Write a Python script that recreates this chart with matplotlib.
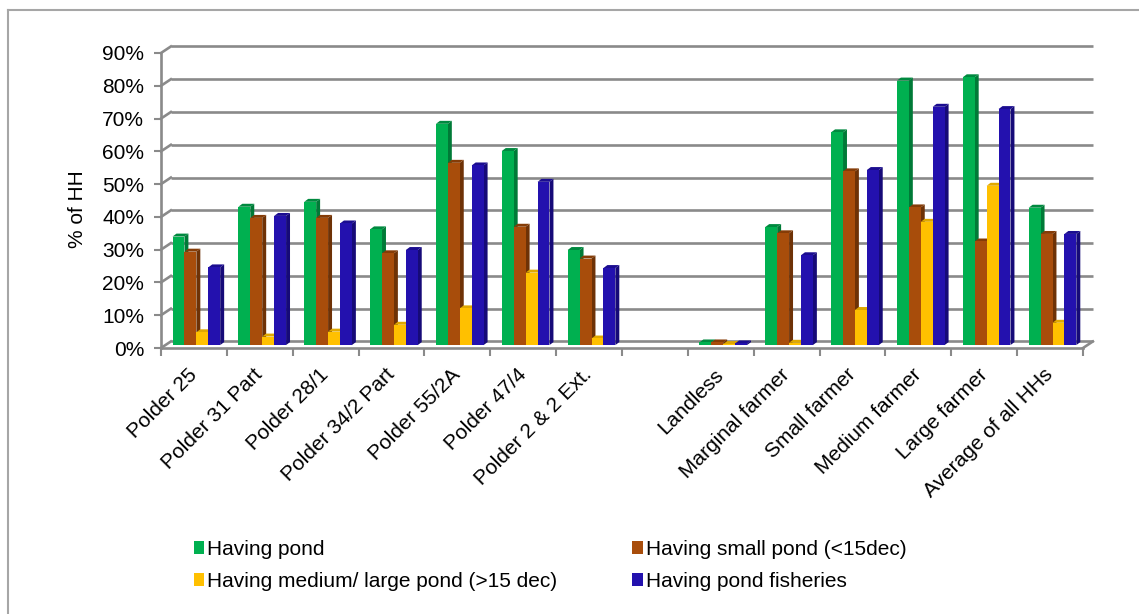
import numpy as np
import matplotlib.pyplot as plt
from matplotlib.patches import Polygon
from matplotlib.lines import Line2D

plt.rcParams["font.family"] = ["Liberation Sans", "DejaVu Sans"]

categories = ["Polder 25", "Polder 31 Part", "Polder 28/1", "Polder 34/2 Part",
              "Polder 55/2A", "Polder 47/4", "Polder 2 & 2 Ext.", "",
              "Landless", "Marginal farmer", "Small farmer", "Medium farmer",
              "Large farmer", "Average of all HHs"]

series_names = ["Having pond", "Having small pond (<15dec)",
                "Having medium/ large pond (>15 dec)", "Having pond fisheries"]

having_pond = [33.1, 42.2, 43.7, 35.3, 67.5, 59.2, 29.0, 0,
               0.8, 36.0, 64.9, 80.7, 81.7, 41.9]
small_pond = [28.5, 38.8, 38.8, 28.0, 55.6, 36.1, 26.4, 0,
              0.8, 34.1, 53.0, 42.0, 31.6, 33.9]
medium_large_pond = [3.9, 2.6, 4.1, 6.2, 11.2, 22.1, 2.0, 0,
                     0.3, 0.7, 10.7, 37.6, 48.6, 6.8]
pond_fisheries = [23.7, 39.4, 37.1, 29.0, 54.8, 49.8, 23.5, 0,
                  0.5, 27.4, 53.4, 72.7, 72.0, 33.9]

face_colors = ["#00b050", "#a84d0b", "#ffc000", "#2311ae"]
side_colors = ["#007a37", "#6e3206", "#c99600", "#160a78"]
top_colors = ["#00893f", "#853c07", "#e0a800", "#1b0d90"]

series = [having_pond, small_pond, medium_large_pond, pond_fisheries]
FS = 15

fig = plt.figure(figsize=(11.39, 6.14), dpi=100)
ax = fig.add_axes([161 / 1139, 266 / 614, 922 / 1139, 295 / 614])
n = len(categories)
ax.set_xlim(0, n)
ax.set_ylim(0, 90)

# depth of the fake 3-D box (in data units) and of each bar
dxw, dyw = 0.15, 2.0
dxb, dyb = 0.06, 0.9
base = 0.9
width = 0.181
left = 0.175

grid_col = "#8a8a8a"
# back wall gridlines with the short diagonals on the side wall
for v in range(0, 100, 10):
    ax.plot([dxw, n + dxw], [v + dyw, v + dyw], color=grid_col, lw=1.9,
            clip_on=False, zorder=1, solid_capstyle="butt")
    ax.plot([0, dxw], [v, v + dyw], color=grid_col, lw=1.9, clip_on=False, zorder=1)
# floor front edge, right corner and the value axis
ax.plot([0, n], [0, 0], color=grid_col, lw=1.9, clip_on=False, zorder=1)
ax.plot([n, n + dxw], [0, dyw], color=grid_col, lw=1.9, clip_on=False, zorder=1)
ax.plot([0, 0], [0, 90], color=grid_col, lw=1.9, clip_on=False, zorder=1)

x = np.arange(n)
handles = []
for k, vals in enumerate(series):
    xs = x + left + k * width
    # front faces; each series sits over the side face of the one before it
    bars = ax.bar(xs, vals, width=width, bottom=base, align="edge",
                  color=face_colors[k], linewidth=0, zorder=4 + 2 * k,
                  label=series_names[k])
    handles.append(bars)
    for xi, v in zip(xs, vals):
        if v <= 0:
            continue
        top = base + v
        x1 = xi + width
        side = Polygon([(x1, base), (x1, top), (x1 + dxb, top + dyb),
                        (x1 + dxb, base + dyb)], closed=True,
                       facecolor=side_colors[k], lw=0, zorder=3 + 2 * k)
        cap = Polygon([(xi, top), (x1, top), (x1 + dxb, top + dyb),
                       (xi + dxb, top + dyb)], closed=True,
                      facecolor=top_colors[k], lw=0, zorder=3 + 2 * k)
        ax.add_patch(side)
        ax.add_patch(cap)

for s in ax.spines.values():
    s.set_visible(False)

ax.set_yticks(np.arange(0, 100, 10))
ax.set_yticklabels([f"{v}%" for v in range(0, 100, 10)])
ax.tick_params(axis="y", length=5, width=1.5, color=grid_col, pad=7,
               labelsize=FS)

ax.set_xticks(np.arange(n + 1))
ax.set_xticklabels([])
ax.tick_params(axis="x", which="major", length=6, width=1.5, color=grid_col)
ax.set_xticks(x + 0.5, minor=True)
ax.set_xticklabels(categories, minor=True, rotation=45, ha="right",
                   rotation_mode="anchor", va="center")
ax.tick_params(axis="x", which="minor", length=0, pad=17, labelsize=FS)

ax.set_ylabel("% of HH", fontsize=FS)
ax.yaxis.set_label_coords(-0.080, 0.47)

fig.legend([handles[0], handles[2], handles[1], handles[3]],
           [series_names[0], series_names[2], series_names[1], series_names[3]],
           ncol=2, loc="upper left", bbox_to_anchor=(175 / 1139, 1 - 521 / 614),
           frameon=False, fontsize=FS, handlelength=0.5, handleheight=0.55,
           handletextpad=0.15, columnspacing=3.6, labelspacing=0.62)

# chart frame (only the left and top edges fall inside the image)
fig.add_artist(Line2D([7.5 / 1139, 7.5 / 1139], [0, 1 - 9.5 / 614],
                      transform=fig.transFigure, color="#a6a6a6", lw=1.5))
fig.add_artist(Line2D([7.5 / 1139, 1], [1 - 9.5 / 614, 1 - 9.5 / 614],
                      transform=fig.transFigure, color="#a6a6a6", lw=1.5))

fig.savefig("out.png", dpi=100)
